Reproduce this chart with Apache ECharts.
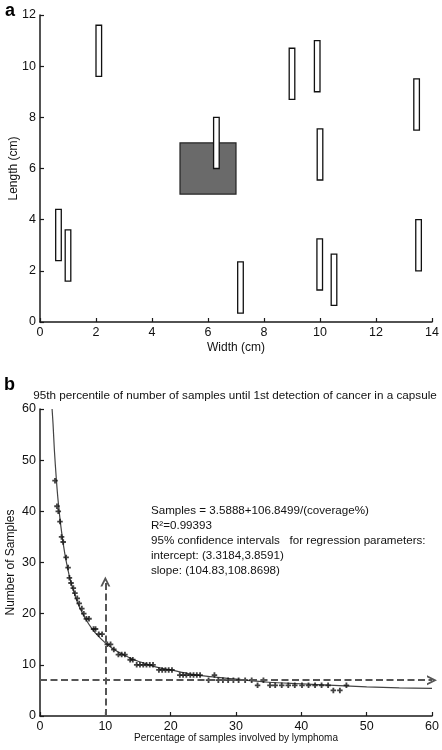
<!DOCTYPE html>
<html><head><meta charset="utf-8">
<script src="https://cdn.jsdelivr.net/npm/echarts@6/dist/echarts.min.js"></script>
<style>html,body{margin:0;padding:0;background:#fff}#c{width:442px;height:750px}</style>
</head><body><div id="c"></div>
<script>
// ---- Panel a: capsule rectangles (cm) ----
const capsuleX0 = [2.0, 6.2, 8.9, 9.8, 9.9, 13.35, 0.56, 0.9, 7.06, 9.89, 10.4, 13.42];
const capsuleX1 = [2.2, 6.4, 9.1, 10.0, 10.1, 13.55, 0.76, 1.1, 7.26, 10.09, 10.6, 13.62];
const capsuleY0 = [9.6, 6.0, 8.7, 9.0, 5.55, 7.5, 2.4, 1.6, 0.35, 1.25, 0.65, 2.0];
const capsuleY1 = [11.6, 8.0, 10.7, 11.0, 7.55, 9.5, 4.4, 3.6, 2.35, 3.25, 2.65, 4.0];
const sampleBox = [5, 7, 5, 7]; // x0, x1, y0, y1
const aXTicks = [0, 14, 2];
const aYTicks = [0, 12, 2];

// ---- Panel b: observed points ----
const coverage = [2.3, 2.6, 2.8, 3.06, 3.3, 3.55, 4.0, 4.3, 4.5, 4.75, 5.1, 5.35, 5.7, 6.0, 6.4, 6.7, 7.1, 7.5,
  8.2, 8.5, 9.0, 9.5, 10.3, 10.8, 11.3, 12.0, 12.5, 13.0, 13.8, 14.2, 14.8, 15.3, 15.8, 16.3, 16.8, 17.3,
  18.2, 18.7, 19.2, 19.7, 20.2, 21.4, 21.9, 22.4, 23.0, 23.5, 24.0, 24.5, 25.8, 26.7, 27.3, 28.0, 28.8,
  29.6, 30.4, 31.4, 32.4, 33.3, 34.2, 35.2, 36.0, 37.0, 38.0, 39.0, 40.1, 41.1, 42.1, 43.1, 44.1, 44.9, 45.9, 46.9];
const samples = [46, 41, 40, 38, 35, 34, 31, 29, 27, 26, 25, 24, 23, 22, 21, 20, 19, 19,
  17, 17, 16, 16, 14, 14, 13, 12, 12, 12, 11, 11, 10, 10, 10, 10, 10, 10,
  9, 9, 9, 9, 9, 8, 8, 8, 8, 8, 8, 8, 7, 8, 7, 7, 7,
  7, 7, 7, 7, 6, 7, 6, 6, 6, 6, 6, 6, 6, 6, 6, 6, 5, 5, 6];
// fitted curve
const curveX = [1.85, 2, 2.2, 2.5, 2.8, 3.2, 3.6, 4, 4.5, 5, 5.5, 6, 7, 8, 9, 10, 11, 12, 14, 16, 18, 20, 23, 26, 30, 35, 40, 45, 50, 55, 60];
const curveY = [60, 57, 52, 46.3, 41.7, 37, 33.3, 30.3, 27.3, 25, 23, 21.4, 18.9, 17, 15.5, 14.3, 13.3, 12.5, 11.2, 10.3, 9.5, 9, 8.2, 7.7, 7.2, 6.6, 6.3, 6, 5.7, 5.5, 5.4];
const vArrow = [[10, 0], [10, 26.3]];
const hArrow = [[0, 7], [60, 7]];
const bTicks = [0, 60, 10];

const FONT = "'Liberation Sans', Arial, sans-serif";
const INK = '#1a1a1a';

function rectItem(fill, stroke, lw) {
  return function (params, api) {
    const p0 = api.coord([api.value(0), api.value(3)]);
    const p1 = api.coord([api.value(1), api.value(2)]);
    return { type: 'rect', shape: { x: p0[0], y: p0[1], width: p1[0] - p0[0], height: p1[1] - p0[1] },
      style: { fill: fill, stroke: stroke, lineWidth: lw } };
  };
}
function axisCommon(extra) {
  return Object.assign({
    type: 'value',
    axisLine: { show: true, onZero: false, lineStyle: { color: INK, width: 1.5 } },
    axisTick: { show: true, inside: true, length: 4, lineStyle: { color: INK, width: 1.2 } },
    axisLabel: { color: '#111', fontFamily: FONT, fontSize: 12.5, margin: 4 },
    splitLine: { show: false },
    nameLocation: 'middle',
    nameMoveOverlap: false,
    nameTextStyle: { color: '#111', fontFamily: FONT, fontSize: 12 }
  }, extra);
}

const capsules = capsuleX0.map((x, i) => [x, capsuleX1[i], capsuleY0[i], capsuleY1[i]]);
const points = coverage.map((x, i) => [x, samples[i]]);
const curve = curveX.map((x, i) => [x, curveY[i]]);
const chevron = 'path://M0,10 L5,0 L10,10 L8,10 L5,4 L2,10 Z';

const chart = echarts.init(document.getElementById('c'));
chart.setOption({
  animation: false,
  backgroundColor: '#fff',
  grid: [
    { left: 40, right: 10, top: 15, height: 307, containLabel: false, outerBoundsMode: 'none' },
    { left: 40, right: 10, top: 409, height: 307, containLabel: false, outerBoundsMode: 'none' }
  ],
  xAxis: [
    axisCommon({ gridIndex: 0, min: aXTicks[0], max: aXTicks[1], interval: aXTicks[2], name: 'Width (cm)', nameGap: 20 }),
    axisCommon({ gridIndex: 1, min: bTicks[0], max: bTicks[1], interval: bTicks[2], name: 'Percentage of samples involved by lymphoma', nameGap: 17,
      nameTextStyle: { color: '#111', fontFamily: FONT, fontSize: 10 } })
  ],
  yAxis: [
    axisCommon({ gridIndex: 0, min: aYTicks[0], max: aYTicks[1], interval: aYTicks[2], name: 'Length (cm)', nameGap: 20 }),
    axisCommon({ gridIndex: 1, min: bTicks[0], max: bTicks[1], interval: bTicks[2], name: 'Number of Samples', nameGap: 23 })
  ],
  graphic: [
    { type: 'text', left: 5, top: 2, style: { text: 'a', font: 'bold 18px ' + FONT, fill: '#000' } },
    { type: 'text', left: 4, top: 376, style: { text: 'b', font: 'bold 18px ' + FONT, fill: '#000' } },
    { type: 'text', x: 235, y: 396, style: { text: '95th percentile of number of samples until 1st detection of cancer in a capsule',
      font: '11.7px ' + FONT, fill: '#111', textAlign: 'center', textVerticalAlign: 'middle' } },
    { type: 'text', left: 151, top: 503, style: {
      text: 'Samples = 3.5888+106.8499/(coverage%)\nR\u00b2=0.99393\n95% confidence intervals   for regression parameters:\nintercept: (3.3184,3.8591)\nslope: (104.83,108.8698)',
      font: '11.6px ' + FONT, lineHeight: 15, fill: '#111' } }
  ],
  series: [
    { type: 'custom', xAxisIndex: 0, yAxisIndex: 0, renderItem: rectItem('#6a6a6a', '#222', 1.2),
      data: [sampleBox], encode: { x: [0, 1], y: [2, 3] }, z: 2 },
    { type: 'custom', xAxisIndex: 0, yAxisIndex: 0, renderItem: rectItem('#fff', '#111', 1.3),
      data: capsules, encode: { x: [0, 1], y: [2, 3] }, z: 3 },
    { type: 'line', xAxisIndex: 1, yAxisIndex: 1, data: curve, smooth: 0.3, showSymbol: false,
      lineStyle: { color: '#444', width: 1.2 }, z: 2,
      markLine: { silent: true, symbol: ['none', chevron], symbolSize: [10, 10],
        lineStyle: { type: [7, 3.5], color: '#555', width: 2 }, label: { show: false },
        data: [
          [{ coord: vArrow[0] }, { coord: vArrow[1] }],
          [{ coord: hArrow[0] }, { coord: hArrow[1] }]
        ] } },
    { type: 'scatter', xAxisIndex: 1, yAxisIndex: 1, data: points,
      symbol: 'path://M2,0H4V2H6V4H4V6H2V4H0V2H2Z', symbolSize: 5.5,
      itemStyle: { color: '#111' }, z: 3 }
  ]
});
</script></body></html>
